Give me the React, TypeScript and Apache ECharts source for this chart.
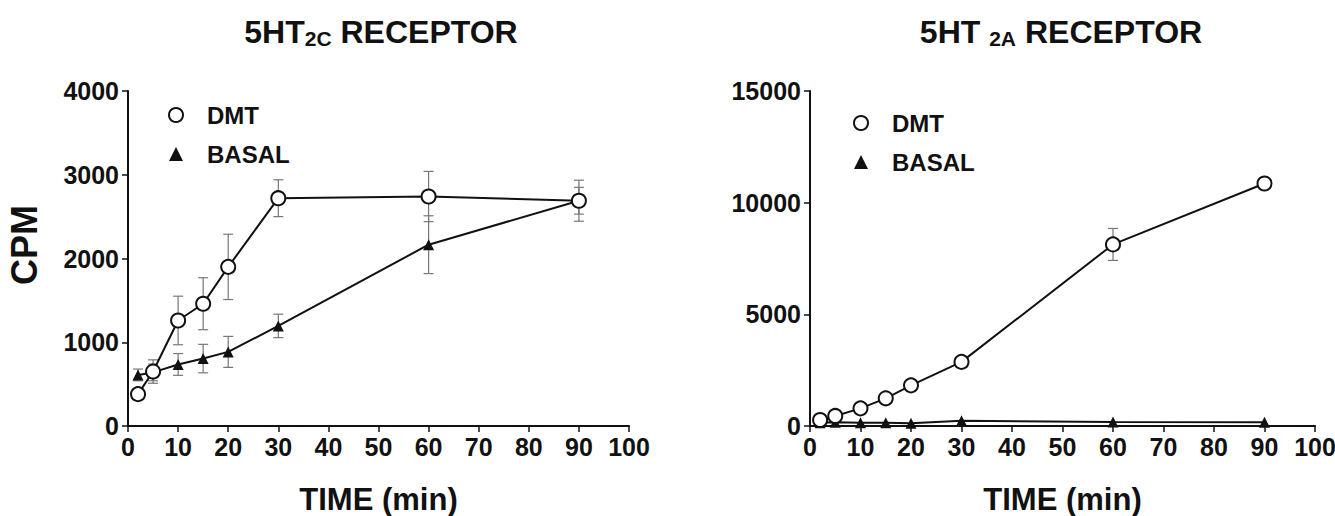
import React, { useEffect, useRef } from "react";
import * as echarts from "echarts";

const times = [2, 5, 10, 15, 20, 30, 60, 90];
const dmt2C = [380, 650, 1260, 1460, 1900, 2720, 2740, 2690];
const dmt2CErr = [60, 140, 290, 310, 390, 220, 300, 245];
const basal2C = [610, 640, 735, 805, 885, 1195, 2165, 2690];
const basal2CErr = [70, 100, 130, 170, 185, 140, 345, 160];
const dmt2A = [270, 450, 790, 1240, 1820, 2870, 8130, 10860];
const dmt2AErr = [0, 0, 0, 0, 0, 0, 715, 0];
const basal2A = [150, 170, 140, 150, 120, 230, 180, 170];
const title2C = ["5HT", "2C", " RECEPTOR"];
const title2A = ["5HT ", "2A", " RECEPTOR"];
const xTicks = [0, 100, 10];
const yTicks2C = [0, 4000, 1000];
const yTicks2A = [0, 15000, 5000];

const FONT = "'Liberation Sans', Arial, sans-serif";

function pairs(ys: number[]) {
  return times.map((t, i) => [t, ys[i]]);
}
function errData(ys: number[], es: number[]) {
  return times.map((t, i) => [t, ys[i], es[i]]).filter((d) => d[2] > 0);
}

function errRender(params: any, api: any) {
  const x = api.value(0);
  const y = api.value(1);
  const e = api.value(2);
  const top = api.coord([x, y + e]);
  const bot = api.coord([x, y - e]);
  const hw = 5;
  const style = { stroke: "#777", lineWidth: 1.2 };
  return {
    type: "group",
    children: [
      { type: "line", shape: { x1: top[0], y1: top[1], x2: bot[0], y2: bot[1] }, style },
      { type: "line", shape: { x1: top[0] - hw, y1: top[1], x2: top[0] + hw, y2: top[1] }, style },
      { type: "line", shape: { x1: bot[0] - hw, y1: bot[1], x2: bot[0] + hw, y2: bot[1] }, style },
    ],
  };
}

export default function App() {
  const ref = useRef<HTMLDivElement>(null);
  useEffect(() => {
    document.body.style.margin = "0";
    if (!ref.current) return;
    const chart = echarts.init(ref.current, null, { renderer: "svg" });
    const axisLabel = {
      color: "#111",
      fontWeight: "bold",
      fontSize: 25,
      fontFamily: FONT,
      formatter: (v: number) => String(v),
    };
    const axisLine = { show: true, lineStyle: { color: "#111", width: 2 } };
    const axisTick = { show: true, length: 6, lineStyle: { color: "#111", width: 1.5 } };
    const xAxisBase = (gi: number) => ({
      type: "value",
      gridIndex: gi,
      min: xTicks[0],
      max: xTicks[1],
      interval: xTicks[2],
      axisLine,
      axisTick,
      axisLabel: { ...axisLabel, margin: 8 },
      splitLine: { show: false },
      name: "TIME (min)",
      nameLocation: "middle",
      nameGap: 58,
      nameTextStyle: { color: "#111", fontWeight: "bold", fontSize: 31, lineHeight: 30, fontFamily: FONT },
    });
    const yAxisBase = (gi: number, t: number[]) => ({
      type: "value",
      gridIndex: gi,
      min: t[0],
      max: t[1],
      interval: t[2],
      axisLine,
      axisTick,
      axisLabel: { ...axisLabel, margin: 9 },
      splitLine: { show: false },
    });
    const titleRich = {
      a: { fontSize: 32, fontWeight: "bold", fontFamily: FONT, color: "#111" },
      b: { fontSize: 21, fontWeight: "bold", fontFamily: FONT, color: "#111", padding: [14, 0, 0, 0] },
    };
    const legendBase = (left: number, top: number) => ({
      orient: "vertical",
      left,
      top,
      itemWidth: 14,
      itemHeight: 14,
      itemGap: 15,
      selectedMode: false,
      textStyle: {
        fontSize: 24,
        fontWeight: "bold",
        fontFamily: FONT,
        color: "#111",
        lineHeight: 24,
        padding: [0, 0, 0, 19],
      },
      data: [
        { name: "DMT", icon: "circle", itemStyle: { color: "#fff", borderColor: "#111", borderWidth: 2 } },
        { name: "BASAL", icon: "triangle", itemStyle: { color: "#111", borderWidth: 0 } },
      ],
    });
    const dmtSeries = (gi: number, ys: number[]) => ({
      name: "DMT",
      type: "line",
      xAxisIndex: gi,
      yAxisIndex: gi,
      data: pairs(ys),
      symbol: "circle",
      symbolSize: 14,
      z: 4,
      lineStyle: { color: "#111", width: 2 },
      itemStyle: { color: "#fff", borderColor: "#111", borderWidth: 2 },
    });
    const basalSeries = (gi: number, ys: number[]) => ({
      name: "BASAL",
      type: "line",
      xAxisIndex: gi,
      yAxisIndex: gi,
      data: pairs(ys),
      symbol: "triangle",
      symbolSize: 11,
      z: 3,
      lineStyle: { color: "#111", width: 2 },
      itemStyle: { color: "#111" },
    });
    const errSeries = (gi: number, ys: number[], es: number[]) => ({
      type: "custom",
      xAxisIndex: gi,
      yAxisIndex: gi,
      data: errData(ys, es),
      renderItem: errRender,
      z: 2,
      silent: true,
    });
    chart.setOption({
      animation: false,
      backgroundColor: "#fff",
      title: [
        {
          text: `{a|${title2C[0]}}{b|${title2C[1]}}{a|${title2C[2]}}`,
          left: 376,
          top: 9,
          textAlign: "center",
          textStyle: { rich: titleRich },
        },
        {
          text: `{a|${title2A[0]}}{b|${title2A[1]}}{a|${title2A[2]}}`,
          left: 1056,
          top: 9,
          textAlign: "center",
          textStyle: { rich: titleRich },
        },
      ],
      legend: [legendBase(163, 98), legendBase(848, 106)],
      grid: [
        { left: 128, right: 706, top: 91, bottom: 90, outerBoundsMode: "none", containLabel: false },
        { left: 810, right: 20, top: 91, bottom: 90, outerBoundsMode: "none", containLabel: false },
      ],
      xAxis: [xAxisBase(0), xAxisBase(1)],
      yAxis: [
        {
          ...yAxisBase(0, yTicks2C),
          name: "CPM",
          nameLocation: "middle",
          nameGap: 86,
          nameRotate: 90,
          nameTextStyle: { color: "#111", fontWeight: "bold", fontSize: 36, fontFamily: FONT, padding: [0, 0, 0, 27] },
        },
        yAxisBase(1, yTicks2A),
      ],
      series: [
        errSeries(0, dmt2C, dmt2CErr),
        errSeries(0, basal2C, basal2CErr),
        basalSeries(0, basal2C),
        dmtSeries(0, dmt2C),
        errSeries(1, dmt2A, dmt2AErr),
        basalSeries(1, basal2A),
        dmtSeries(1, dmt2A),
      ],
    });
    return () => chart.dispose();
  }, []);
  return <div ref={ref} style={{ width: 1335, height: 516 }} />;
}
